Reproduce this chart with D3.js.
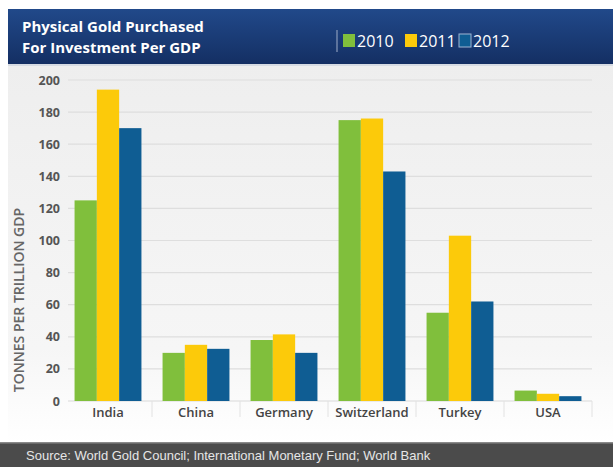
<!DOCTYPE html>
<html>
<head>
<meta charset="utf-8">
<script src="https://cdn.jsdelivr.net/npm/d3@7"></script>
<style>
  body { margin: 0; background: #fff; }
  svg { display: block; }
</style>
</head>
<body>
<svg id="chart"></svg>
<script>
var WIDTH = 613, HEIGHT = 467;

var countries = ["India", "China", "Germany", "Switzerland", "Turkey", "USA"];
var years = ["2010", "2011", "2012"];
var values2010 = [125, 30, 38, 175, 55, 6.5];
var values2011 = [194, 35, 41.5, 176, 103, 4.5];
var values2012 = [170, 32.5, 30, 143, 62, 3];
var yTicks = [0, 20, 40, 60, 80, 100, 120, 140, 160, 180, 200];
var colors = ["#80bf3c", "#fcca0a", "#0f5d93"];

var series = [values2010, values2011, values2012];

var svg = d3.select("#chart").attr("width", WIDTH).attr("height", HEIGHT);
var defs = svg.append("defs");

var hdr = defs.append("linearGradient").attr("id", "hdr").attr("x1", 0).attr("x2", 0).attr("y1", 0).attr("y2", 1);
hdr.append("stop").attr("offset", "0%").attr("stop-color", "#21498a");
hdr.append("stop").attr("offset", "100%").attr("stop-color", "#142f63");

var bg = defs.append("linearGradient").attr("id", "bg").attr("x1", 0).attr("x2", 0).attr("y1", 0).attr("y2", 1);
bg.append("stop").attr("offset", "0%").attr("stop-color", "#eeeeee");
bg.append("stop").attr("offset", "75%").attr("stop-color", "#f6f6f6");
bg.append("stop").attr("offset", "100%").attr("stop-color", "#ffffff");

// panel background
svg.append("rect").attr("x", 8).attr("y", 64).attr("width", WIDTH - 8).attr("height", 379).attr("fill", "url(#bg)");

// header
svg.append("rect").attr("x", 8).attr("y", 9).attr("width", WIDTH - 8).attr("height", 55).attr("fill", "url(#hdr)");
svg.append("rect").attr("x", 8).attr("y", 64).attr("width", WIDTH - 8).attr("height", 2).attr("fill", "#d6dbe3");

var title = svg.append("text").attr("fill", "#fff")
  .style("font-family", "'Open Sans', sans-serif").style("font-weight", "700").style("font-size", "15px");
title.append("tspan").attr("x", 22).attr("y", 32).text("Physical Gold Purchased");
title.append("tspan").attr("x", 22).attr("y", 53).text("For Investment Per GDP");

// legend
svg.append("line").attr("x1", 337).attr("x2", 337).attr("y1", 30).attr("y2", 52)
  .attr("stroke", "#8a9bbb").attr("stroke-width", 1.2);
var legendX = [343, 405, 459];
var lg = svg.selectAll(".lg").data(years).enter().append("g")
  .attr("transform", function(d, i) { return "translate(" + legendX[i] + ",34)"; });
lg.append("rect").attr("width", 12).attr("height", 13)
  .attr("fill", function(d, i) { return colors[i]; })
  .attr("stroke", function(d, i) { return i == 2 ? "#9fb6d3" : "none"; })
  .attr("stroke-width", 1);
lg.append("text").attr("x", 14).attr("y", 12.5).attr("fill", "#fff")
  .style("font-family", "'Open Sans', sans-serif").style("font-size", "16px")
  .text(function(d) { return d; });

// scales
var x0 = d3.scaleBand().domain(countries).range([64, 592]).paddingInner(0.24).paddingOuter(0.12);
var x1 = d3.scaleBand().domain(years).range([0, x0.bandwidth()]);
var y = d3.scaleLinear().domain([0, 200]).range([401, 80]);

// gridlines
svg.append("g").selectAll("line").data(yTicks.slice(1)).enter().append("line")
  .attr("x1", 68).attr("x2", 592)
  .attr("y1", function(d) { return y(d); }).attr("y2", function(d) { return y(d); })
  .attr("stroke", "#dedede").attr("stroke-width", 1.2);
svg.append("line").attr("x1", 68).attr("x2", 592).attr("y1", y(0)).attr("y2", y(0))
  .attr("stroke", "#d9d9d9").attr("stroke-width", 1.2);

// y axis labels
var yAxis = svg.append("g").attr("transform", "translate(60,0)")
  .call(d3.axisLeft(y).tickValues(yTicks).tickSize(0).tickPadding(0));
yAxis.select(".domain").remove();
yAxis.selectAll("text").attr("fill", "#555")
  .style("font-family", "'Open Sans', sans-serif").style("font-weight", "700").style("font-size", "12.5px");

svg.append("text").attr("transform", "translate(24,300) rotate(-90)")
  .attr("text-anchor", "middle").attr("fill", "#666")
  .style("font-family", "'Open Sans', sans-serif").style("font-weight", "600").style("font-size", "14px")
  .text("TONNES PER TRILLION GDP");

// category separators
var seps = countries.slice(1).map(function(c) { return x0(c) - x0.step() * x0.paddingInner() / 2; });
seps.push(x0("USA") + x0.bandwidth() + x0.step() * x0.paddingInner() / 2);
svg.append("g").selectAll("line").data(seps).enter().append("line")
  .attr("x1", function(d) { return d; }).attr("x2", function(d) { return d; })
  .attr("y1", y(0)).attr("y2", y(0) + 16)
  .attr("stroke", "#e2e2e2").attr("stroke-width", 1);

// bars
var groups = svg.append("g").selectAll("g").data(countries).enter().append("g")
  .attr("transform", function(d) { return "translate(" + x0(d) + ",0)"; });
groups.selectAll("rect")
  .data(function(d, ci) { return years.map(function(yr, si) { return { year: yr, value: series[si][ci], color: colors[si] }; }); })
  .enter().append("rect")
  .attr("x", function(d) { return x1(d.year); })
  .attr("width", x1.bandwidth())
  .attr("y", function(d) { return y(d.value); })
  .attr("height", function(d) { return y(0) - y(d.value); })
  .attr("fill", function(d) { return d.color; });

// x axis labels
var xAxis = svg.append("g").attr("transform", "translate(0," + (y(0) + 3) + ")")
  .call(d3.axisBottom(x0).tickSize(0).tickPadding(4));
xAxis.select(".domain").remove();
xAxis.selectAll("text").attr("fill", "#444")
  .style("font-family", "'Open Sans', sans-serif").style("font-weight", "600").style("font-size", "13px");

// footer
svg.append("rect").attr("x", 0).attr("y", 442).attr("width", WIDTH).attr("height", HEIGHT - 442).attr("fill", "#4b4b4b");
svg.append("rect").attr("x", 0).attr("y", 442).attr("width", WIDTH).attr("height", 1.5).attr("fill", "#8a8a8a");
svg.append("text").attr("x", 26).attr("y", 460).attr("fill", "#e6e6e6")
  .style("font-family", "'Liberation Sans', Arial, sans-serif").style("font-size", "13px")
  .text("Source: World Gold Council; International Monetary Fund; World Bank");
</script>
</body>
</html>
